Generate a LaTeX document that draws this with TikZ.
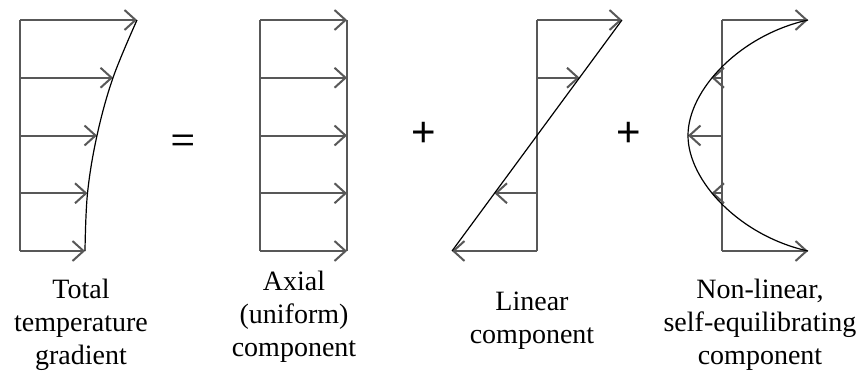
\documentclass[tikz,border=0pt]{standalone}
\usepackage{fontspec}
\setmainfont{Liberation Serif}
\newfontfamily\symfont{Liberation Sans}
\usetikzlibrary{arrows.meta}
\definecolor{linegray}{RGB}{88,88,88}
\begin{document}
\begin{tikzpicture}[x=1pt,y=-1pt,
  axisline/.style={draw=linegray, line width=2pt},
  force/.style={draw=linegray, line width=2pt, -{Straight Barb[length=11pt,width=20pt]}},
  profile/.style={draw=black, line width=1.2pt},
  lbl/.style={font=\fontsize{28}{33}\selectfont, inner sep=0pt, anchor=base},
  sym/.style={font=\symfont\fontsize{42}{42}\selectfont, inner sep=0pt}]
\useasboundingbox (0,0) rectangle (862,375);

% ---------- Diagram 1: total ----------
\coordinate (b11) at (20,20);
\coordinate (b12) at (20,77.75);
\coordinate (b13) at (20,135.5);
\coordinate (b14) at (20,193.25);
\coordinate (b15) at (20,251);
\coordinate (t11) at (137,20);
\coordinate (t12) at (113,77.75);
\coordinate (t13) at (97,135.5);
\coordinate (t14) at (87.5,193.25);
\coordinate (t15) at (85,251);
\draw[axisline] (b11) -- (b15);
\foreach \i in {1,...,5} {\draw[force] (b1\i) -- (t1\i);}
\draw[profile] plot[smooth, tension=0.6] coordinates {(t11) (t12) (t13) (t14) (t15)};

% ---------- Diagram 2: axial ----------
\coordinate (b21) at (260,20);
\coordinate (b22) at (260,77.75);
\coordinate (b23) at (260,135.5);
\coordinate (b24) at (260,193.25);
\coordinate (b25) at (260,251);
\coordinate (t21) at (347,20);
\coordinate (t22) at (347,77.75);
\coordinate (t23) at (347,135.5);
\coordinate (t24) at (347,193.25);
\coordinate (t25) at (347,251);
\draw[axisline] (b21) -- (b25);
\draw[axisline] (t21) -- (t25);
\foreach \i in {1,...,5} {\draw[force] (b2\i) -- (t2\i);}

% ---------- Diagram 3: linear ----------
\coordinate (b31) at (537,20);
\coordinate (b32) at (537,77.75);
\coordinate (b34) at (537,193.25);
\coordinate (b35) at (537,251);
\coordinate (t31) at (622,20);
\coordinate (t32) at (579.5,77.75);
\coordinate (t34) at (494.5,193.25);
\coordinate (t35) at (452,251);
\draw[axisline] (b31) -- (b35);
\foreach \i in {1,2,4,5} {\draw[force] (b3\i) -- (t3\i);}
\draw[profile] (t35) -- (t31);

% ---------- Diagram 4: non-linear ----------
\coordinate (b41) at (722,20);
\coordinate (b42) at (722,77.75);
\coordinate (b43) at (722,135.5);
\coordinate (b44) at (722,193.25);
\coordinate (b45) at (722,251);
\coordinate (t41) at (808,20);
\coordinate (t42) at (711.5,77.75);
\coordinate (t43) at (688,135.5);
\coordinate (t44) at (711.5,193.25);
\coordinate (t45) at (808,251);
\draw[axisline] (b41) -- (b45);
\foreach \i in {1,...,5} {\draw[force] (b4\i) -- (t4\i);}
\draw[profile] (t41) .. controls (740,35) and (688,90) .. (t43)
               .. controls (688,181) and (740,236) .. (t45);

% ---------- operators ----------
\node[sym] (eq) at (183,143) {\scalebox{1}[0.8]{=}};
\node[sym] (p1) at (424,134) {+};
\node[sym] (p2) at (629,134) {+};

% ---------- labels ----------
\node[lbl] (l1a) at (81,298) {Total};
\node[lbl] (l1b) at (81,331) {temperature};
\node[lbl] (l1c) at (81,364) {gradient};
\node[lbl] (l2a) at (294,290) {Axial};
\node[lbl] (l2b) at (294,323) {(uniform)};
\node[lbl] (l2c) at (294,356) {component};
\node[lbl] (l3a) at (532,310) {Linear};
\node[lbl] (l3b) at (532,343) {component};
\node[lbl] (l4a) at (760,298) {Non-linear,};
\node[lbl] (l4b) at (760,331) {self-equilibrating};
\node[lbl] (l4c) at (760,364) {component};
\end{tikzpicture}
\end{document}
